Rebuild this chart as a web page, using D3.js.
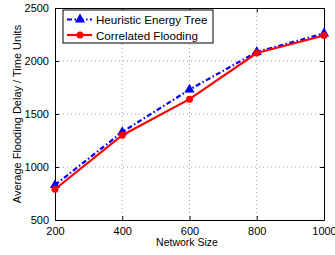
<!DOCTYPE html>
<html>
<head>
<meta charset="utf-8">
<script src="https://cdn.jsdelivr.net/npm/d3@7"></script>
<style>
  body { margin: 0; background: #fff; }
  text { font-family: "Liberation Sans", Arial, sans-serif; }
</style>
</head>
<body>
<div id="plot"></div>
<script>
// chart data
const networkSizes = [200, 400, 600, 800, 1000];
const heuristicDelay = [830, 1330, 1730, 2085, 2260];
const correlatedDelay = [790, 1300, 1640, 2075, 2240];
const xTicks = [200, 400, 600, 800, 1000];
const yTicks = [500, 1000, 1500, 2000, 2500];

const width = 335, height = 255;
const margin = { top: 8, right: 11, bottom: 35, left: 55 };
const innerWidth = width - margin.left - margin.right;
const innerHeight = height - margin.top - margin.bottom;

const svg = d3.select("#plot").append("svg")
    .attr("width", width)
    .attr("height", height);

const g = svg.append("g")
    .attr("transform", `translate(${margin.left},${margin.top})`);

const x = d3.scaleLinear().domain([200, 1000]).range([0, innerWidth]);
const y = d3.scaleLinear().domain([500, 2500]).range([innerHeight, 0]);

// dotted grid
g.selectAll(".gx").data(xTicks.slice(1, -1)).enter().append("line")
    .attr("x1", d => x(d)).attr("x2", d => x(d))
    .attr("y1", 0).attr("y2", innerHeight)
    .attr("stroke", "#888").attr("stroke-width", 0.8)
    .attr("stroke-dasharray", "1,3");
g.selectAll(".gy").data(yTicks.slice(1, -1)).enter().append("line")
    .attr("y1", d => y(d)).attr("y2", d => y(d))
    .attr("x1", 0).attr("x2", innerWidth)
    .attr("stroke", "#888").attr("stroke-width", 0.8)
    .attr("stroke-dasharray", "1,3");

// axes (ticks inside, box style)
const fmt = d3.format("d");
const xAxis = g.append("g").attr("transform", `translate(0,${innerHeight})`)
    .call(d3.axisBottom(x).tickValues(xTicks).tickFormat(fmt).tickSizeInner(-4).tickSizeOuter(0).tickPadding(7));
const yAxis = g.append("g")
    .call(d3.axisLeft(y).tickValues(yTicks).tickFormat(fmt).tickSizeInner(-4).tickSizeOuter(0).tickPadding(6));
g.append("g")
    .call(d3.axisTop(x).tickValues(xTicks).tickSizeInner(-4).tickSizeOuter(0).tickFormat(""));
g.append("g").attr("transform", `translate(${innerWidth},0)`)
    .call(d3.axisRight(y).tickValues(yTicks).tickSizeInner(-4).tickSizeOuter(0).tickFormat(""));

g.selectAll(".domain").attr("stroke", "#000").attr("stroke-width", 1);
g.selectAll(".tick line").attr("stroke", "#000");
xAxis.selectAll("text").attr("font-size", 11).attr("fill", "#000");
yAxis.selectAll("text").attr("font-size", 11).attr("fill", "#000");

// axis labels
svg.append("text")
    .attr("x", 187)
    .attr("y", 246)
    .attr("text-anchor", "middle")
    .attr("font-size", 10.5)
    .text("Network Size");
svg.append("text")
    .attr("transform", `translate(21,${margin.top + innerHeight / 2}) rotate(-90)`)
    .attr("text-anchor", "middle")
    .attr("font-size", 11)
    .text("Average Flooding Delay / Time Units");

// series lines
const line = d3.line().x(d => x(d[0])).y(d => y(d[1]));
const heurPts = networkSizes.map((n, i) => [n, heuristicDelay[i]]);
const corrPts = networkSizes.map((n, i) => [n, correlatedDelay[i]]);

g.append("path").datum(heurPts)
    .attr("d", line).attr("fill", "none")
    .attr("stroke", "#0000ff").attr("stroke-width", 2.2)
    .attr("stroke-dasharray", "5,2.5,1.5,2.5");
g.selectAll(".tri").data(heurPts).enter().append("path")
    .attr("transform", d => `translate(${x(d[0])},${y(d[1])})`)
    .attr("d", d3.symbol().type(d3.symbolTriangle).size(45))
    .attr("fill", "#0000ff");

g.append("path").datum(corrPts)
    .attr("d", line).attr("fill", "none")
    .attr("stroke", "#ff0000").attr("stroke-width", 2.2);
g.selectAll(".dot").data(corrPts).enter().append("circle")
    .attr("cx", d => x(d[0])).attr("cy", d => y(d[1]))
    .attr("r", 3.5).attr("fill", "#ff0000");

// legend
const lg = svg.append("g").attr("transform", "translate(63,10)");
lg.append("rect").attr("width", 150).attr("height", 33)
    .attr("fill", "#fff").attr("stroke", "#000").attr("stroke-width", 1);
lg.append("line").attr("x1", 4).attr("x2", 29).attr("y1", 9.5).attr("y2", 9.5)
    .attr("stroke", "#0000ff").attr("stroke-width", 2.2)
    .attr("stroke-dasharray", "5,2.5,1.5,2.5");
lg.append("path").attr("transform", "translate(17,9.5)")
    .attr("d", d3.symbol().type(d3.symbolTriangle).size(45))
    .attr("fill", "#0000ff");
lg.append("text").attr("x", 33).attr("y", 14).attr("font-size", 11.6)
    .text("Heuristic Energy Tree");
lg.append("line").attr("x1", 4).attr("x2", 29).attr("y1", 25).attr("y2", 25)
    .attr("stroke", "#ff0000").attr("stroke-width", 2.2);
lg.append("circle").attr("cx", 17).attr("cy", 25).attr("r", 3.5).attr("fill", "#ff0000");
lg.append("text").attr("x", 33).attr("y", 29.5).attr("font-size", 11.6)
    .text("Correlated Flooding");
</script>
</body>
</html>
